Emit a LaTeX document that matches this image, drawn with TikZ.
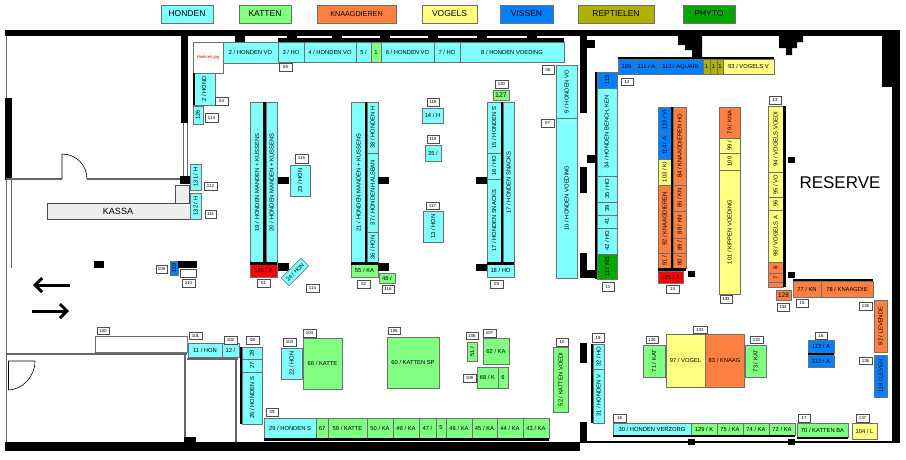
\documentclass[tikz,border=0pt]{standalone}
\usepackage{fontspec}
\setmainfont{Liberation Sans}
\usetikzlibrary{arrows.meta}
\definecolor{hon}{HTML}{80FFFF}
\definecolor{kat}{HTML}{80FF80}
\definecolor{kna}{HTML}{FF8040}
\definecolor{vog}{HTML}{FFFF80}
\definecolor{vis}{HTML}{0080FF}
\definecolor{rep}{HTML}{B0B000}
\definecolor{phy}{HTML}{00A800}
\definecolor{rd}{HTML}{FF0000}
\definecolor{edge}{HTML}{707070}
\definecolor{kas}{HTML}{EEEEEE}
\tikzset{
 cell/.style={draw=edge,line width=0.6pt},
 lbl/.style={inner sep=0pt,font=\fontsize{5.8}{6}\selectfont},
 tagbox/.style={draw=black!70,fill=white,line width=0.5pt},
 tagtxt/.style={inner sep=0pt,font=\fontsize{4.4}{5}\selectfont},
 wallg/.style={draw=black!60,line width=1.6pt},
 thinw/.style={draw=black!60,line width=0.8pt}
}
\newcommand\cellH[6]{\draw[cell,fill=#5] (#1,#2) rectangle (#3,#4); \node[lbl] at ({(#1+#3)/2},{(#2+#4)/2}) {#6};}
\newcommand\cellV[6]{\draw[cell,fill=#5] (#1,#2) rectangle (#3,#4); \node[lbl,rotate=90] at ({(#1+#3)/2},{(#2+#4)/2}) {#6};}
\newcommand\tagb[5]{\draw[tagbox] (#1,#2) rectangle (#3,#4); \node[tagtxt] at ({(#1+#3)/2},{(#2+#4)/2}) {#5};}
\newcommand\blk[4]{\fill[black] (#1,#2) rectangle (#3,#4);}
\begin{document}
\begin{tikzpicture}[x=1pt,y=-1pt]
\useasboundingbox[fill=white] (0,0) rectangle (906,459);
% legend
\cellH{161}{5}{213}{23}{hon}{\fontsize{8.5}{9}\selectfont HONDEN}
\cellH{239}{5}{291}{23}{kat}{\fontsize{8.5}{9}\selectfont KATTEN}
\cellH{317}{5}{396}{23}{kna}{\fontsize{7.2}{8}\selectfont KNAAGDIEREN}
\cellH{422}{5}{477}{23}{vog}{\fontsize{8.5}{9}\selectfont VOGELS}
\cellH{500}{5}{553}{23}{vis}{\fontsize{8.5}{9}\selectfont VISSEN}
\cellH{578}{5}{654}{23}{rep}{\fontsize{8.5}{9}\selectfont REPTIELEN}
\cellH{683}{5}{735}{23}{phy}{\fontsize{8.5}{9}\selectfont PHYTO}
% outer walls
\blk{5}{30}{900}{36}
\blk{892}{30}{900}{443}
\blk{882}{36}{892}{87}
\draw[thinw] (6,36)--(6,443); \draw[thinw] (11,180)--(11,268);
\blk{5}{98}{12}{180}
\blk{5}{442}{580}{451}
\draw[black,line width=1.2pt] (580,442)--(900,442);
% top notches
\foreach \a in {235,287,332,380,428,477,527}{\blk{\a}{36}{\a+10}{42}}
\fill[black] (678,36)--(702,36)--(702,57)--(692,57)--(692,50)--(685,50)--(685,45)--(678,45)--cycle;
\fill[black] (779,36)--(803,36)--(803,42)--(797,42)--(797,48)--(792,48)--(792,55)--(786,55)--(786,48)--(779,48)--cycle;
% inner walls
\blk{181}{36}{188}{123}
\draw[thinw] (183,123)--(183,178); \draw[thinw] (187,123)--(187,178);
\draw[wallg] (6,179)--(62,179); \draw[wallg] (87,179)--(185,179);
\draw[black,line width=0.6pt] (62,179)--(62,154) .. controls (76,154) and (87,165) .. (87,179);
\blk{180}{176}{190}{184}
\draw[draw=black!70,fill=kas] (175,185) rectangle (189,204);
\draw[draw=black!70,fill=kas] (47,203) rectangle (190,219);
\node[font=\fontsize{9}{10}\selectfont] at (118,211) {KASSA};
\blk{580}{36}{587}{113}\blk{587}{40}{595}{48}
\blk{580}{167}{587}{193}\blk{587}{155}{595}{163}
\blk{580}{253}{587}{278}\blk{587}{270}{595}{278}
\blk{580}{343}{587}{363}\blk{580}{422}{587}{443}
% lower left walls
\draw[wallg] (6,354)--(187,354);
\draw[wallg] (185,354)--(185,442);
\draw[wallg] (187,359)--(238,359);
\draw[wallg] (236,359)--(236,442);
\blk{184}{437}{196}{442}
\draw[black,line width=1pt] (8,361)--(8,390);
\draw[black,line width=0.6pt] (8,361)--(35,361) .. controls (35,377) and (22,390) .. (8,390);
% arrows
\draw[line width=3pt,-{Straight Barb[length=7pt,width=14pt]}] (70,285)--(33,285);
\draw[line width=3pt,-{Straight Barb[length=7pt,width=14pt]}] (32,311)--(69,311);
% kassa area
\cellV{190}{164}{201}{190}{hon}{131 / H}
\tagb{204}{182}{217}{190}{112}
\cellV{190}{193}{201}{219}{hon}{132 / H}
\tagb{205}{210}{216}{218}{111}
\blk{94}{261}{104}{268}
\tagb{156}{265}{167}{273}{109}
\cellV{170}{261}{178}{275}{vis}{119}
\blk{178}{261}{197}{268}
\draw[tagbox] (180,269) rectangle (196,277);
\tagb{182}{279}{195}{287}{110}
% top honden band
\draw[cell,fill=white] (193,42) rectangle (223,73);
\node[lbl,text=red,font=\fontsize{4.2}{5}\selectfont] at (208,57) {Hoekrek.jpg};
\cellH{223}{42}{278}{63}{hon}{2 / HONDEN VO}
\blk{278}{38}{564}{42}
\cellH{278}{42}{304}{62}{hon}{3 / HO}
\cellH{304}{42}{356}{62}{hon}{4 / HONDEN VO}
\cellH{356}{42}{371}{62}{hon}{5 /}
\cellH{371}{42}{381}{62}{kat}{1}
\cellH{381}{42}{434}{62}{hon}{6 / HONDEN VO}
\cellH{434}{42}{460}{62}{hon}{7 / HO}
\cellH{460}{42}{564}{62}{hon}{8 / HONDEN VOEDING}
\tagb{279}{63}{292}{71}{05}
\cellV{193}{73}{215}{105}{hon}{2 / HOND}
\blk{193}{73}{195}{105}
\tagb{215}{97}{228}{105}{04}
\cellV{193}{106}{203}{124}{hon}{126}
\tagb{205}{113}{218}{122}{113}
\tagb{542}{65}{554}{74}{06}
\cellV{556}{65}{577}{118}{hon}{9 / HONDEN VO}
\tagb{541}{119}{554}{127}{07}
\cellV{556}{118}{577}{278}{hon}{10 / HONDEN VOEDING}
% aisle 1
\cellV{250}{102}{264}{263}{hon}{19 / HONDEN MANDEN + KUSSENS}
\cellV{266}{102}{277}{263}{hon}{20 / HONDEN MANDEN + KUSSENS}
\blk{263}{102}{266}{263}
\cellH{250}{264}{277}{277}{rd}{125 / A}
\blk{250}{262}{277}{265}
\tagb{257}{279}{270}{287}{01}
\blk{278}{177}{289}{184}\blk{278}{263}{289}{271}
\tagb{295}{154}{308}{163}{115}
\cellV{290}{165}{310}{196}{hon}{23 / HON}
\node[cell,fill=hon,rotate=45,minimum width=28pt,minimum height=11pt,inner sep=0pt,font=\fontsize{5.4}{6}\selectfont] at (295,272) {24 / HON};
\tagb{306}{284}{319}{292}{114}
% aisle 2
\cellV{351}{102}{366}{263}{hon}{21 / HONDEN MANDEN + KUSSENS}
\cellV{367}{102}{378}{153}{hon}{38 / HONDEN H}
\cellV{367}{153}{378}{232}{hon}{37 / HONDEN HALSBAN}
\cellV{367}{232}{378}{263}{hon}{36 / HON}
\blk{365}{102}{367}{263}
\cellH{351}{264}{378}{277}{kat}{55 / KA}
\blk{351}{262}{378}{265}
\tagb{357}{280}{370}{288}{02}
\blk{378}{177}{389}{184}\blk{378}{263}{389}{271}
\cellH{379}{273}{395}{283}{kat}{48 /}
\tagb{382}{285}{394}{293}{116}
% middle
\tagb{427}{98}{439}{106}{119}
\cellH{422}{108}{443}{123}{hon}{14 / H}
\tagb{427}{135}{439}{143}{118}
\cellH{425}{145}{441}{161}{hon}{35 /}
\tagb{426}{202}{439}{209}{117}
\cellV{423}{211}{443}{242}{hon}{13 / HON}
% aisle 3
\tagb{495}{80}{508}{88}{120}
\cellH{493}{90}{509}{100}{kat}{\fontsize{7}{8}\selectfont 127}
\cellV{487}{102}{501}{153}{hon}{15 / HONDEN S}
\cellV{487}{153}{501}{179}{hon}{16 / HO}
\cellV{487}{179}{501}{263}{hon}{17 / HONDEN SNACKS}
\cellV{503}{102}{514}{263}{hon}{17 / HONDEN SNACKS}
\blk{501}{102}{503}{263}
\cellH{487}{264}{514}{277}{hon}{18 / HO}
\blk{487}{262}{514}{265}
\tagb{490}{280}{503}{288}{03}
\blk{476}{177}{487}{184}\blk{476}{264}{487}{271}
% right hall top band
\blk{618}{57}{774}{59}
\cellH{618}{59}{635}{74}{vis}{109}
\cellH{635}{59}{658}{74}{vis}{111 / A}
\cellH{658}{59}{703}{74}{vis}{112 / AQUARI}
\cellH{703}{59}{710}{74}{rep}{1}
\cellH{710}{59}{717}{74}{rep}{1}
\cellH{717}{59}{723}{74}{rep}{1}
\cellH{723}{59}{774}{74}{vog}{93 / VOGELS V}
\tagb{621}{78}{633}{85}{12}
% column 115
\blk{595}{72}{597}{279}
\cellV{597}{72}{617}{88}{vis}{115}
\cellV{597}{88}{617}{176}{hon}{34 / HONDEN BENCH, KEN}
\cellV{597}{176}{617}{202}{hon}{35 / HO}
\cellV{597}{202}{617}{215}{hon}{39}
\cellV{597}{215}{617}{228}{hon}{41}
\cellV{597}{228}{617}{254}{hon}{42 / HO}
\cellV{597}{254}{617}{279}{phy}{11 / INS}
\tagb{602}{282}{614}{291}{11}
% knaag column
\cellV{658}{107}{671}{133}{vis}{110 / VI}
\cellV{658}{133}{671}{159}{vis}{114 / A}
\cellV{658}{159}{671}{185}{vog}{103 / KI}
\cellV{658}{185}{671}{253}{kna}{92 / KNAAGDIEREN}
\cellV{658}{253}{671}{268}{kna}{91 /}
\cellV{673}{107}{686}{185}{kna}{84 / KNAAGDIEREN HO}
\cellV{673}{185}{686}{211}{kna}{85 / KN}
\cellV{673}{211}{686}{238}{kna}{88 / KN}
\cellV{673}{238}{686}{253}{kna}{89 /}
\cellV{673}{253}{686}{268}{kna}{80 /}
\blk{671}{107}{673}{268}
\blk{658}{268}{686}{271}
\cellH{658}{271}{683}{283}{rd}{125 / A}
\tagb{666}{285}{679}{293}{14}
\blk{688}{271}{695}{277}
% kippen
\cellV{719}{107}{740}{138}{kna}{79 / KNA}
\cellV{719}{138}{740}{153}{vog}{99 /}
\cellV{719}{153}{740}{170}{vog}{100}
\cellV{719}{170}{740}{294}{vog}{101 / KIPPEN VOEDING}
\tagb{720}{295}{732}{303}{133}
% vogels column
\tagb{769}{96}{781}{104}{13}
\cellV{768}{106}{783}{172}{vog}{94 / VOGELS VOEDI}
\cellV{768}{172}{783}{197}{vog}{95 / VO}
\cellV{768}{197}{783}{210}{vog}{96}
\cellV{768}{210}{783}{262}{vog}{98 / VOGELS A}
\cellV{768}{262}{783}{273}{kna}{8}
\cellV{768}{273}{783}{282}{kna}{7}
\cellV{768}{282}{783}{287}{kna}{}
\blk{783}{106}{786}{287}
\blk{788}{157}{795}{163}\blk{788}{272}{795}{278}
\node[font=\fontsize{17}{18}\selectfont] at (840,183) {RESERVE};
% 77/78
\blk{793}{279}{873}{281}
\cellH{793}{281}{821}{297}{kna}{77 / KN}
\cellH{821}{281}{873}{297}{kna}{78 / KNAAGDIE}
\cellH{776}{290}{791}{300}{kna}{\fontsize{6.5}{7}\selectfont 128}
\tagb{777}{303}{789}{311}{134}
\tagb{796}{299}{808}{307}{15}
\tagb{859}{302}{872}{310}{135}
\cellV{874}{300}{887}{352}{kna}{92 / LEVENDE}
\tagb{859}{357}{872}{364}{136}
\cellV{874}{355}{887}{397}{vis}{118 / LEVEN}
\tagb{815}{332}{827}{339}{16}
\cellH{808}{340}{834}{353}{vis}{113 / A}
\blk{808}{353}{834}{355}
\cellH{808}{355}{834}{367}{vis}{113 / A}
% centre island
\tagb{646}{336}{658}{343}{130}
\cellV{643}{345}{665}{377}{kat}{71 / KAT}
\tagb{693}{326}{707}{333}{131}
\cellH{666}{334}{705}{387}{vog}{97 / VOGEL}
\cellH{705}{334}{744}{387}{kna}{83 / KNAAG}
\tagb{750}{336}{763}{343}{132}
\cellV{745}{345}{766}{377}{kat}{73 / KAT}
% column 31/32
\tagb{592}{333}{604}{342}{19}
\blk{591}{344}{593}{423}
\cellV{593}{344}{604}{369}{hon}{32 / HO}
\cellV{593}{369}{604}{423}{hon}{31 / HONDEN V}
% bottom right band
\tagb{613}{414}{626}{422}{18}
\cellH{613}{423}{691}{435}{hon}{30 / HONDEN VERZORG}
\cellH{691}{423}{717}{435}{kat}{129 / K}
\cellH{717}{423}{743}{435}{kat}{75 / KA}
\cellH{743}{423}{769}{435}{kat}{74 / KA}
\cellH{769}{423}{795}{435}{kat}{72 / KA}
\blk{613}{435}{795}{437}
\tagb{798}{414}{810}{422}{17}
\cellH{797}{423}{848}{437}{kat}{70 / KATTEN BA}
\blk{797}{437}{848}{439}
\tagb{856}{414}{869}{422}{137}
\cellH{852}{423}{877}{439}{vog}{104 / L}
\blk{688}{439}{695}{445}\blk{788}{439}{795}{445}
% bottom left area
\tagb{97}{327}{109}{334}{100}
\draw[cell,fill=white] (95,336) rectangle (187,352);
\tagb{189}{332}{202}{339}{101}
\cellH{188}{343}{222}{357}{hon}{11 / HON}
\cellH{222}{343}{239}{357}{hon}{12 /}
\tagb{224}{336}{237}{344}{102}
\tagb{246}{336}{259}{344}{08}
\blk{240}{347}{242}{424}
\cellV{242}{347}{262}{359}{hon}{28}
\cellV{242}{359}{262}{372}{hon}{27}
\cellV{242}{372}{262}{424}{hon}{26 / HONDEN S}
\tagb{283}{338}{296}{346}{103}
\cellV{281}{348}{302}{379}{hon}{22 / HON}
\tagb{303}{329}{316}{337}{104}
\cellH{303}{338}{342}{389}{kat}{66 / KATTE}
\tagb{388}{327}{400}{334}{105}
\cellH{387}{337}{439}{388}{kat}{60 / KATTEN SP}
\tagb{466}{332}{478}{339}{106}
\cellV{467}{342}{477}{361}{kat}{51 /}
\tagb{483}{329}{496}{337}{107}
\cellH{483}{338}{509}{364}{kat}{62 / KA}
\tagb{463}{374}{476}{382}{108}
\cellH{477}{367}{498}{388}{kat}{68 / K}
\cellH{498}{367}{508}{388}{kat}{6}
\tagb{556}{338}{568}{346}{10}
\cellV{553}{347}{568}{412}{kat}{52 / KATTEN VOEDI}
\tagb{266}{408}{278}{416}{09}
\cellH{264}{418}{316}{438}{hon}{29 / HONDEN S}
\cellH{316}{418}{328}{438}{kat}{67}
\cellH{328}{418}{367}{438}{kat}{59 / KATTE}
\cellH{367}{418}{393}{438}{kat}{50 / KA}
\cellH{393}{418}{419}{438}{kat}{49 / KA}
\cellH{419}{418}{436}{438}{kat}{47 /}
\cellH{436}{418}{446}{438}{kat}{5}
\cellH{446}{418}{472}{438}{kat}{46 / KA}
\cellH{472}{418}{497}{438}{kat}{45 / KA}
\cellH{497}{418}{523}{438}{kat}{44 / KA}
\cellH{523}{418}{549}{438}{kat}{43 / KA}
\blk{264}{438}{549}{441}
\end{tikzpicture}
\end{document}
